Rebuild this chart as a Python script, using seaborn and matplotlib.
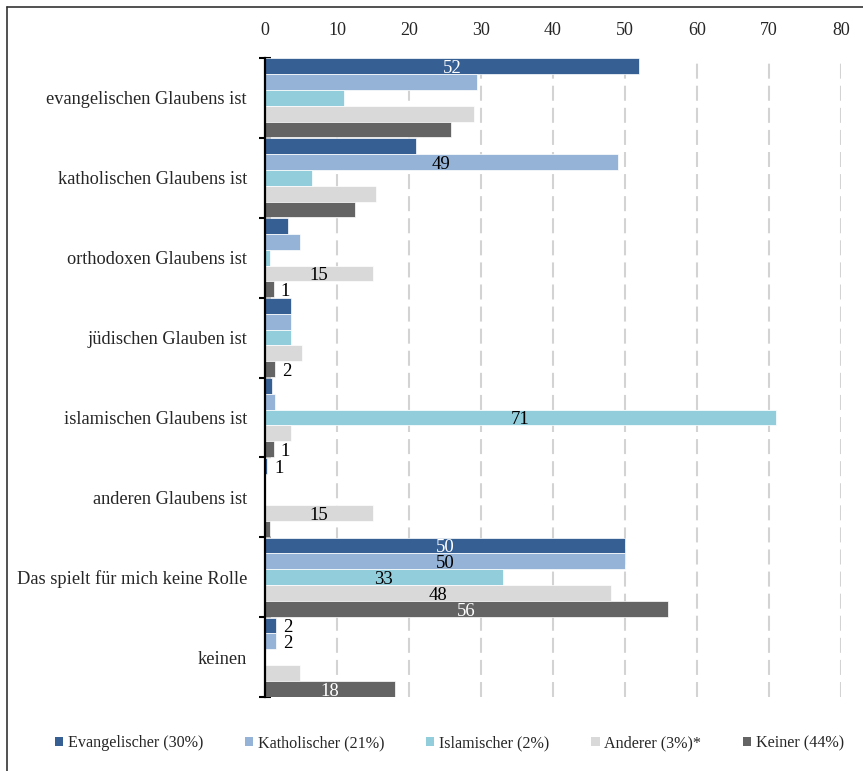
import matplotlib
matplotlib.use("Agg")
import matplotlib.pyplot as plt
import seaborn as sns
import pandas as pd
from matplotlib.patches import Patch
from matplotlib.lines import Line2D

categories = ["evangelischen Glaubens ist", "katholischen Glaubens ist",
              "orthodoxen Glaubens ist", "jüdischen Glauben ist",
              "islamischen Glaubens ist", "anderen Glaubens ist",
              "Das spielt für mich keine Rolle", "keinen"]
series = ["Evangelischer (30%)", "Katholischer (21%)", "Islamischer (2%)",
          "Anderer (3%)*", "Keiner (44%)"]
evangelisch = [52, 21, 3.2, 3.6, 1.0, 0.3, 50, 1.5]
katholisch = [29.4, 49, 4.8, 3.6, 1.4, 0, 50, 1.5]
islamisch = [11, 6.5, 0.7, 3.6, 71, 0, 33, 0]
anderer = [29, 15.4, 15, 5.1, 3.6, 15, 48, 4.8]
keiner = [25.8, 12.5, 1.2, 1.4, 1.2, 0.7, 56, 18]
# displayed labels ("" = no label)
lab_ev = ["52", "", "", "", "", "1", "50", "2"]
lab_ka = ["", "49", "", "", "", "", "50", "2"]
lab_is = ["", "", "", "", "71", "", "33", ""]
lab_an = ["", "", "15", "", "", "15", "48", ""]
lab_ke = ["", "", "1", "2", "1", "", "56", "18"]
x_ticks = [0, 10, 20, 30, 40, 50, 60, 70, 80]

colors = ["#365F94", "#95B3D7", "#92CDDC", "#D9D9D9", "#646464"]
text_colors = ["white", "black", "black", "black", "white"]

values = [evangelisch, katholisch, islamisch, anderer, keiner]
labels = [lab_ev, lab_ka, lab_is, lab_an, lab_ke]
rows = []
for s, vals in zip(series, values):
    for c, v in zip(categories, vals):
        rows.append({"Kategorie": c, "Serie": s, "Wert": v})
df = pd.DataFrame(rows)

sns.set_style("white")
plt.rcParams["font.family"] = ["Liberation Serif", "DejaVu Serif"]

fig = plt.figure(figsize=(8.63, 7.71), dpi=100)
W, H = 863, 771
ax = fig.add_axes([265 / W, 1 - 697 / H, (841 - 265) / W, (697 - 58) / H])

sns.barplot(data=df, y="Kategorie", x="Wert", hue="Serie", order=categories,
            hue_order=series, palette=colors, orient="h", width=0.99,
            saturation=1, edgecolor="white", linewidth=0.5, ax=ax, legend=False)

ax.set_xlim(0, 80)
ax.set_ylim(len(categories) - 0.5, -0.5)
ax.set_xticks(x_ticks)
ax.xaxis.tick_top()
ax.tick_params(axis="x", length=0, pad=14, labelsize=13, top=False, bottom=False)
ax.set_xlabel("")
ax.set_ylabel("")
ax.tick_params(axis="y", length=0, pad=13, labelsize=13.2)
ax.set_yticks(range(len(categories)))
ax.set_yticklabels(categories)
ax.set_yticks([i - 0.5 for i in range(len(categories) + 1)], minor=True)
ax.tick_params(axis="y", which="minor", direction="inout", length=9, width=1.5,
               color="black", left=True)

for side in ["top", "right", "bottom"]:
    ax.spines[side].set_visible(False)
ax.spines["left"].set_color("black")
ax.spines["left"].set_linewidth(1.6)

ax.set_axisbelow(True)
ax.grid(axis="x", color="#D3D3D3", linewidth=1.5, linestyle=(0, (7.2, 3.4)))
ax.grid(axis="y", visible=False)

# bar labels
for i, cont in enumerate(ax.containers):
    for j, bar in enumerate(cont):
        txt = labels[i][j]
        if not txt:
            continue
        w = bar.get_width()
        yc = bar.get_y() + bar.get_height() / 2
        if w >= 10:
            ax.text(w / 2, yc + 0.03, txt, ha="center", va="center",
                    fontsize=13.5, color=text_colors[i])
        else:
            ax.annotate(txt, xy=(w, yc + 0.03), xytext=(5, 0),
                        textcoords="offset points", ha="left", va="center",
                        fontsize=13.5, color="black")

handles = [Patch(facecolor=c, edgecolor="none") for c in colors]
fig.legend(handles, series, loc="center", bbox_to_anchor=(0.521, 1 - 743 / H),
           ncol=5, frameon=False, fontsize=11.6, handlelength=0.5,
           handleheight=0.5, handletextpad=0.3, columnspacing=2.6)

# frame lines (top and left)
fig.add_artist(Line2D([7 / W, 1], [1 - 7 / H, 1 - 7 / H], color="#333333",
                      linewidth=1.2, transform=fig.transFigure))
fig.add_artist(Line2D([7 / W, 7 / W], [0, 1 - 7 / H], color="#333333",
                      linewidth=1.2, transform=fig.transFigure))

fig.savefig("out.png", dpi=100)
